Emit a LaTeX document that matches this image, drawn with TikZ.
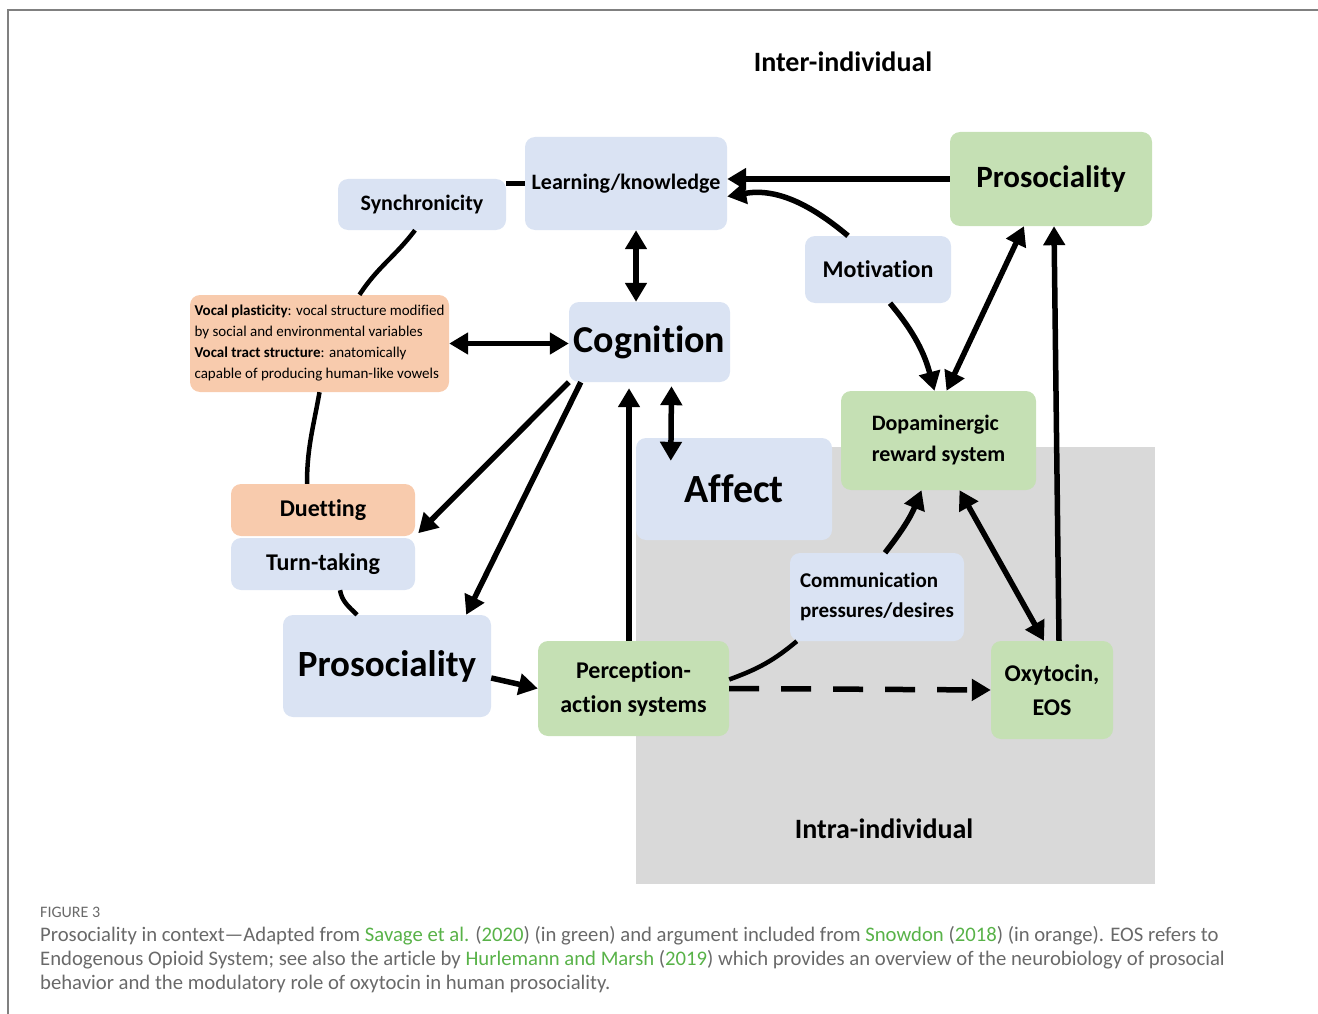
\documentclass[tikz,border=0pt]{standalone}
\usepackage{fontspec}
\setmainfont{Carlito}[Ligatures=NoCommon]
\usepackage{xcolor}
\usepackage{tikz}
\usetikzlibrary{arrows.meta}

\definecolor{boxblue}{RGB}{218,227,243}
\definecolor{boxgreen}{RGB}{197,224,180}
\definecolor{boxorange}{RGB}{248,203,173}
\definecolor{intragray}{RGB}{217,217,217}
\definecolor{framegray}{RGB}{128,128,128}
\definecolor{capgray}{RGB}{105,105,105}
\definecolor{capgreen}{RGB}{88,178,72}
\newcommand{\fsz}[2]{\fontsize{#1}{#2}\selectfont}

\begin{document}
\begin{tikzpicture}[x=1pt, y=1pt, >={Triangle[length=19pt,width=21pt]},
    bluebox/.style={fill=boxblue, rounded corners=10pt, inner sep=0pt, align=center},
    greenbox/.style={bluebox, fill=boxgreen},
    orangebox/.style={bluebox, fill=boxorange},
    conn/.style={line width=5.5pt},
    tie/.style={line width=4.5pt},
    captext/.style={anchor=base west, inner sep=0pt, text=capgray, font=\fsz{20.7}{24}}]
    \useasboundingbox (0,0) rectangle (1318,-1014);
    \draw[framegray, line width=2pt] (8,-1014) -- (8,-10) -- (1318,-10);
    \fill[intragray] (636,-447) rectangle (1155,-884);

    \node (inter) [font=\fsz{28}{34}\bfseries] at (843,-62) {Inter-individual};
    \node (intra) [font=\fsz{28}{34}\bfseries] at (884,-829) {Intra-individual};

    \node (learn) [bluebox, minimum width=202pt, minimum height=93pt, font=\fsz{22}{26}\bfseries] at (626,-183.5) {Learning/knowledge};
    \node (sync) [bluebox, minimum width=168pt, minimum height=51pt, font=\fsz{22}{26}\bfseries] at (422,-204.5) {Synchronicity};
    \node (prostop) [greenbox, minimum width=202pt, minimum height=94pt, font=\fsz{31}{36}\bfseries] at (1051,-179) {Prosociality};
    \node (motiv) [bluebox, minimum width=146pt, minimum height=67pt, font=\fsz{24}{28}\bfseries] at (878,-269.5) {Motivation};
    \node (cog) [bluebox, minimum width=161pt, minimum height=80pt, font=\fsz{38}{44}\bfseries] at (649.5,-342) {Cognition};
    \node (vocal) [orangebox, align=left, minimum width=259pt, minimum height=97pt, font=\fsz{15}{21}] at (319.5,-343.5)
        {\textbf{Vocal plasticity}: vocal structure modified\\by social and environmental variables\\\textbf{Vocal tract structure}: anatomically\\capable of producing human-like vowels};
    \node (dopa) [greenbox, align=left, minimum width=195pt, minimum height=99pt, font=\fsz{22}{31}\bfseries] at (938.5,-440.5) {Dopaminergic\\reward system};
    \node (affect) [bluebox, minimum width=196pt, minimum height=102pt, font=\fsz{40}{46}\bfseries] at (734,-489) {Affect};
    \node (duet) [orangebox, minimum width=184pt, minimum height=52pt, font=\fsz{24}{28}\bfseries] at (323,-510) {Duetting};
    \node (turn) [bluebox, minimum width=184pt, minimum height=52pt, font=\fsz{24}{28}\bfseries] at (323,-564) {Turn-taking};
    \node (comm) [bluebox, align=left, minimum width=174pt, minimum height=88pt, font=\fsz{21}{30}\bfseries] at (877,-597) {Communication\\pressures/desires};
    \node (proslow) [bluebox, minimum width=208pt, minimum height=102pt, font=\fsz{37}{44}\bfseries] at (387,-666) {Prosociality};
    \node (perc) [greenbox, minimum width=191pt, minimum height=95pt, font=\fsz{24}{34}\bfseries] at (633.5,-688.5) {Perception-\\action systems};
    \node (oxy) [greenbox, minimum width=122pt, minimum height=98pt, font=\fsz{24}{34}\bfseries] at (1052,-690) {Oxytocin,\\EOS};

    \draw[tie] (learn.west) -- (learn.west -| sync.east);
    \draw[conn, ->] (prostop.west) -- (learn.east |- prostop.west);
    \draw[conn, ->] ([xshift=-30pt]motiv.north) to[out=140, in=10] ([yshift=-13pt]learn.east);
    \draw[conn, <->] ([xshift=10pt]learn.south) -- ([xshift=10pt]learn.south |- cog.north);
    \draw[conn, <->] (vocal.east) -- (cog.west |- vocal.east);
    \draw[tie] ([xshift=-7pt]sync.south) to[out=-127, in=57] ([xshift=40pt]vocal.north);
    \draw[tie] (vocal.south) to[out=-100, in=90] ([xshift=-16pt]duet.north);
    \draw[tie] ([xshift=17pt]turn.south) to[out=-80, in=135] ([xshift=-30pt]proslow.north);
    \draw[conn, ->] (cog.south west) -- ([shift={(3pt,3pt)}]duet.south east);
    \draw[conn, ->] ([xshift=12pt]cog.south west) -- ([xshift=-25pt]proslow.north east);
    \draw[conn, ->] ([xshift=-4.5pt]perc.north) -- ([xshift=-4.5pt,yshift=-6pt]perc.north |- cog.south);
    \draw[conn, <->] ([xshift=22pt,yshift=-4pt]cog.south) -- ([shift={(35pt,-23pt)}]affect.north west);
    \draw[conn, ->] ([yshift=-12pt]proslow.east) -- (perc.west);
    \draw[conn, ->, dash pattern=on 30pt off 22pt] (perc.east) -- (oxy.west);
    \draw[tie] ([yshift=9pt]perc.east) to[out=20, in=-140] ([xshift=7pt]comm.south west);
    \draw[conn, ->] ([xshift=8pt]comm.north) to[out=52, in=-112] ([xshift=-17pt]dopa.south);
    \draw[conn, ->] ([xshift=12pt]motiv.south) to[out=-50, in=105] ([xshift=-4pt]dopa.north);
    \draw[conn, <->] ([xshift=8pt]dopa.north) -- ([xshift=-27pt]prostop.south);
    \draw[conn, <->] ([xshift=21pt]dopa.south) -- ([xshift=-8pt]oxy.north);
    \draw[conn, ->] ([xshift=7pt]oxy.north) -- ([xshift=3pt]prostop.south);

    \node (figlabel) [captext, font=\fsz{16}{18}] at (40,-917) {FIGURE 3};
    \node (capA) [captext] at (40,-941)
        {Prosociality in context---Adapted from \textcolor{capgreen}{Savage et al.} (\textcolor{capgreen}{2020}) (in green) and argument included from \textcolor{capgreen}{Snowdon} (\textcolor{capgreen}{2018}) (in orange). EOS refers to};
    \node (capB) [captext] at (40,-965)
        {Endogenous Opioid System; see also the article by \textcolor{capgreen}{Hurlemann and Marsh} (\textcolor{capgreen}{2019}) which provides an overview of the neurobiology of prosocial};
    \node (capC) [captext] at (40,-989)
        {behavior and the modulatory role of oxytocin in human prosociality.};
\end{tikzpicture}
\end{document}
